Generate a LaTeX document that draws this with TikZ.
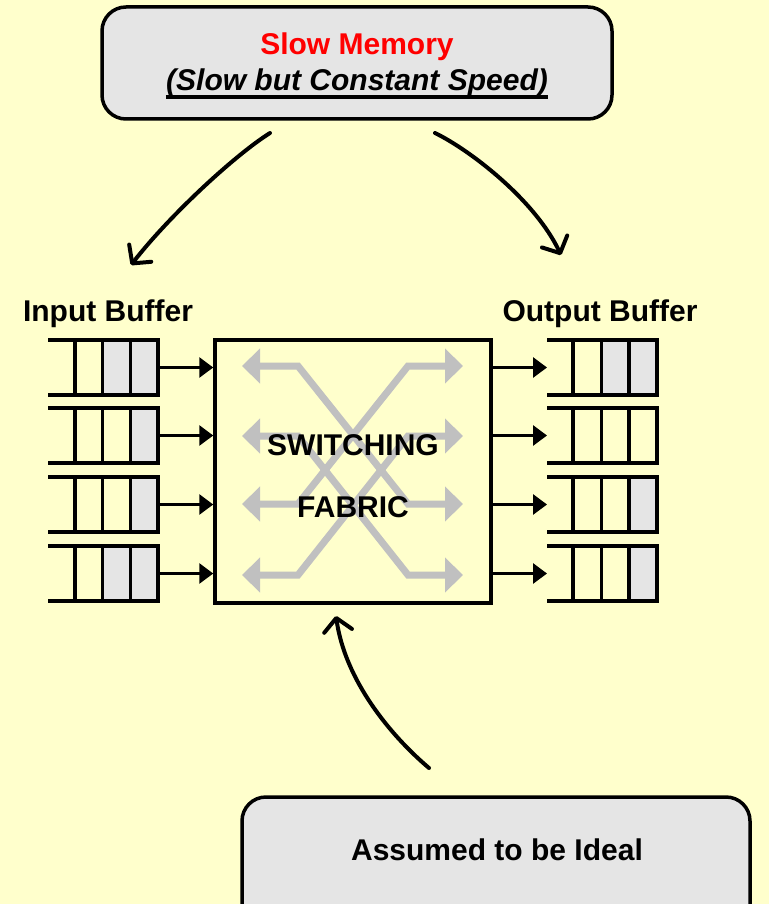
\documentclass[tikz,border=0pt]{standalone}
\usepackage{fontspec}
\setmainfont{Liberation Sans}
\usetikzlibrary{arrows.meta}
\definecolor{bg}{HTML}{FFFFCC}
\definecolor{boxgray}{HTML}{E5E5E5}
\definecolor{fabgray}{HTML}{C0C0C0}
\begin{document}
\begin{tikzpicture}[x=1pt,y=-1pt,
  lbl/.style={font=\fontsize{30}{36}\selectfont\bfseries, inner sep=0pt},
  panel/.style={draw=black, line width=3.5pt, fill=boxgray, rounded corners=24pt, inner sep=0pt},
  qline/.style={line width=3.5pt, line join=miter},
  feed/.style={line width=3pt, -{Triangle[length=14pt 0 0,width=20pt 0 0]}},
  hand/.style={line width=4pt, line cap=round, line join=round,
    -{Straight Barb[length=13pt 0 0,width=28pt 0 0,round]}},
  xpath/.style={draw=fabgray, line width=7pt, line join=miter,
    {Triangle[length=18pt 0 0,width=34pt 0 0]}-{Triangle[length=18pt 0 0,width=34pt 0 0]}}
]
\clip (0,0) rectangle (769,904);
\fill[bg] (0,0) rectangle (769,904);

% --- slow memory panel ---
\node[panel, minimum width=510pt, minimum height=112pt] (mem) at (357,63) {};
\node[lbl, text=red, anchor=base] (memtitle) at (357,55) {Slow Memory};
\node[lbl, anchor=base] (memsub) at (357,91) {\itshape (Slow but Constant Speed)};
\draw[line width=3.5pt] ([yshift=-6pt]memsub.base west) -- ([yshift=-6pt]memsub.base east);

% --- hand-drawn arrows from memory to the buffers ---
\coordinate (memL) at (270,133);
\coordinate (memR) at (435,133);
\coordinate (inTip) at (131,265);
\coordinate (outTip) at (561,255);
\draw[hand] (memL) .. controls (235,155) and (170,215) .. (inTip);
\draw[hand] (memR) .. controls (470,150) and (535,200) .. (outTip);

% --- labels ---
\node[lbl, anchor=base] (inlbl) at (108,321) {Input Buffer};
\node[lbl, anchor=base] (outlbl) at (600,321) {Output Buffer};

% --- switching fabric ---
\node[draw, line width=3.5pt, minimum width=276pt, minimum height=263pt,
      inner sep=0pt, outer sep=1.75pt] (fab) at (353,471.5) {};

% crossing paths inside the fabric
\draw[xpath] (242,366) -- (298,366) -- (408,504) -- (463,504);
\draw[xpath] (463,366) -- (408,366) -- (298,504) -- (242,504);
\draw[xpath] (242,436) -- (298,436) -- (408,575) -- (463,575);
\draw[xpath] (463,436) -- (408,436) -- (298,575) -- (242,575);

\node[lbl, anchor=base] (sw) at (353,455) {SWITCHING};
\node[lbl, anchor=base] (fb) at (353,517) {FABRIC};

% --- input queues (open on the left) ---
\foreach \y/\n [count=\i] in {340/2,408/1,477/1,546/2} {
  \fill[boxgray] ({158-27.67*\n},\y) rectangle (158,\y+55);
  \draw[qline] (48,\y) -- (158,\y) -- (158,\y+55) -- (48,\y+55);
  \foreach \x in {75,102.7,130.3}
    \draw[qline] (\x,\y) -- (\x,\y+55);
  \coordinate (in\i) at (158,\y+27.5);
}
% --- output queues (open on the left) ---
\foreach \y/\n [count=\i] in {340/2,408/0,477/1,546/1} {
  \ifnum\n>0
    \fill[boxgray] ({657-27.67*\n},\y) rectangle (657,\y+55);
  \fi
  \draw[qline] (547,\y) -- (657,\y) -- (657,\y+55) -- (547,\y+55);
  \foreach \x in {573,601.3,629}
    \draw[qline] (\x,\y) -- (\x,\y+55);
  \coordinate (out\i) at (547,\y+27.5);
}

% --- connectors between queues and fabric ---
\foreach \i in {1,...,4} {
  \draw[feed] (in\i) -- (in\i -| fab.west);
  \draw[feed] (fab.east |- out\i) -- (out\i);
}

% --- ideal assumption panel ---
\node[panel, minimum width=508pt, minimum height=140pt] (ideal) at (496,867) {};
\node[lbl, anchor=base] (idealtxt) at (497,860) {Assumed to be Ideal};
\coordinate (idealTail) at (429,768);
\coordinate (fabIn) at (336,616);
\draw[hand] (idealTail) .. controls (390,735) and (345,680) .. (fabIn);
\end{tikzpicture}
\end{document}
